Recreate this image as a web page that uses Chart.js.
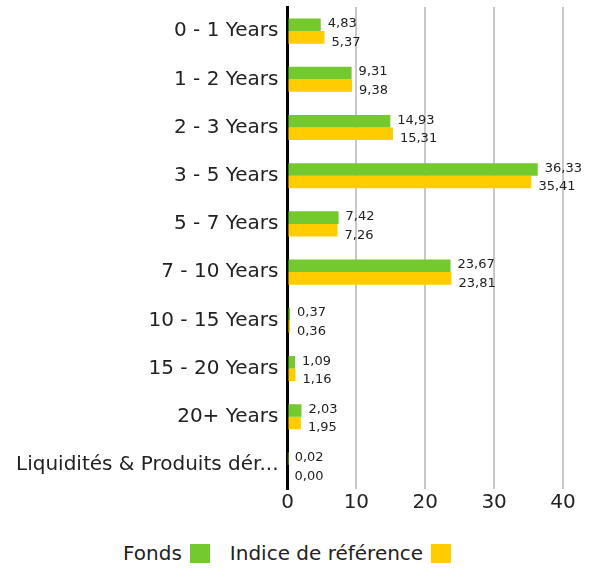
<!DOCTYPE html>
<html>
<head>
<meta charset="utf-8">
<script src="https://cdn.jsdelivr.net/npm/chart.js@4"></script>
<style>
  body { margin: 0; background: #fff; font-family: 'DejaVu Sans', sans-serif; overflow: hidden; }
  #wrap { position: relative; width: 597px; height: 523px; margin-top: -6px; }
  #legend { position: absolute; top: 543px; left: 123px; font-size: 20px; line-height: 20px; color: #222; display: flex; }
  #legend span { display: inline-flex; align-items: center; margin-right: 20px; }
  #legend i { display: inline-block; width: 20px; height: 19px; margin-left: 8px; }
</style>
</head>
<body>
<div id="wrap"><canvas id="chart"></canvas></div>
<div id="legend"></div>
<script>
// duration buckets
const categories = ['0 - 1 Years', '1 - 2 Years', '2 - 3 Years', '3 - 5 Years', '5 - 7 Years',
  '7 - 10 Years', '10 - 15 Years', '15 - 20 Years', '20+ Years', 'Liquidités & Produits dér...'];
const fonds  = [4.83, 9.31, 14.93, 36.33, 7.42, 23.67, 0.37, 1.09, 2.03, 0.02];
const indice = [5.37, 9.38, 15.31, 35.41, 7.26, 23.81, 0.36, 1.16, 1.95, 0.00];
const xTicks = [0, 10, 20, 30, 40];

const GREEN  = '#73c92d';
const YELLOW = '#ffcc00';
const FONT   = "'DejaVu Sans', sans-serif";

const fmt = v => v.toFixed(2).replace('.', ',');

// value labels at the end of each bar
const valueLabels = {
  id: 'valueLabels',
  afterDatasetsDraw(chart) {
    const ctx = chart.ctx;
    ctx.save();
    ctx.font = '13px ' + FONT;
    ctx.fillStyle = '#222';
    ctx.textBaseline = 'middle';
    chart.data.datasets.forEach((ds, i) => {
      const off = i === 0 ? -1 : 5;
      chart.getDatasetMeta(i).data.forEach((bar, j) => {
        ctx.fillText(fmt(ds.data[j]), bar.x + 7, bar.y + off);
      });
    });
    ctx.restore();
  }
};

new Chart(document.getElementById('chart'), {
  type: 'bar',
  data: {
    labels: categories,
    datasets: [
      { label: 'Fonds', data: fonds, backgroundColor: GREEN },
      { label: 'Indice de référence', data: indice, backgroundColor: YELLOW }
    ]
  },
  options: {
    indexAxis: 'y',
    responsive: true, maintainAspectRatio: false, animation: false,
    layout: { padding: { left: 15, right: 34, top: 0, bottom: 0 } },
    datasets: { bar: { categoryPercentage: 0.52, barPercentage: 1.0 } },
    plugins: { legend: { display: false }, tooltip: { enabled: false } },
    scales: {
      x: {
        min: 0, max: 40,
        afterBuildTicks: s => { s.ticks = xTicks.map(v => ({ value: v })); },
        grid: { color: '#c8c8c8', lineWidth: 2, drawTicks: false },
        border: { display: false },
        ticks: { color: '#222', font: { size: 20, family: FONT }, padding: 2 }
      },
      y: {
        grid: { display: false },
        border: { color: '#000', width: 3 },
        ticks: { color: '#222', font: { size: 20, family: FONT }, padding: 1 }
      }
    }
  },
  plugins: [valueLabels]
});

document.getElementById('legend').innerHTML =
  '<span>Fonds<i style="background:' + GREEN + '"></i></span>' +
  '<span>Indice de référence<i style="background:' + YELLOW + '"></i></span>';
</script>
</body>
</html>
